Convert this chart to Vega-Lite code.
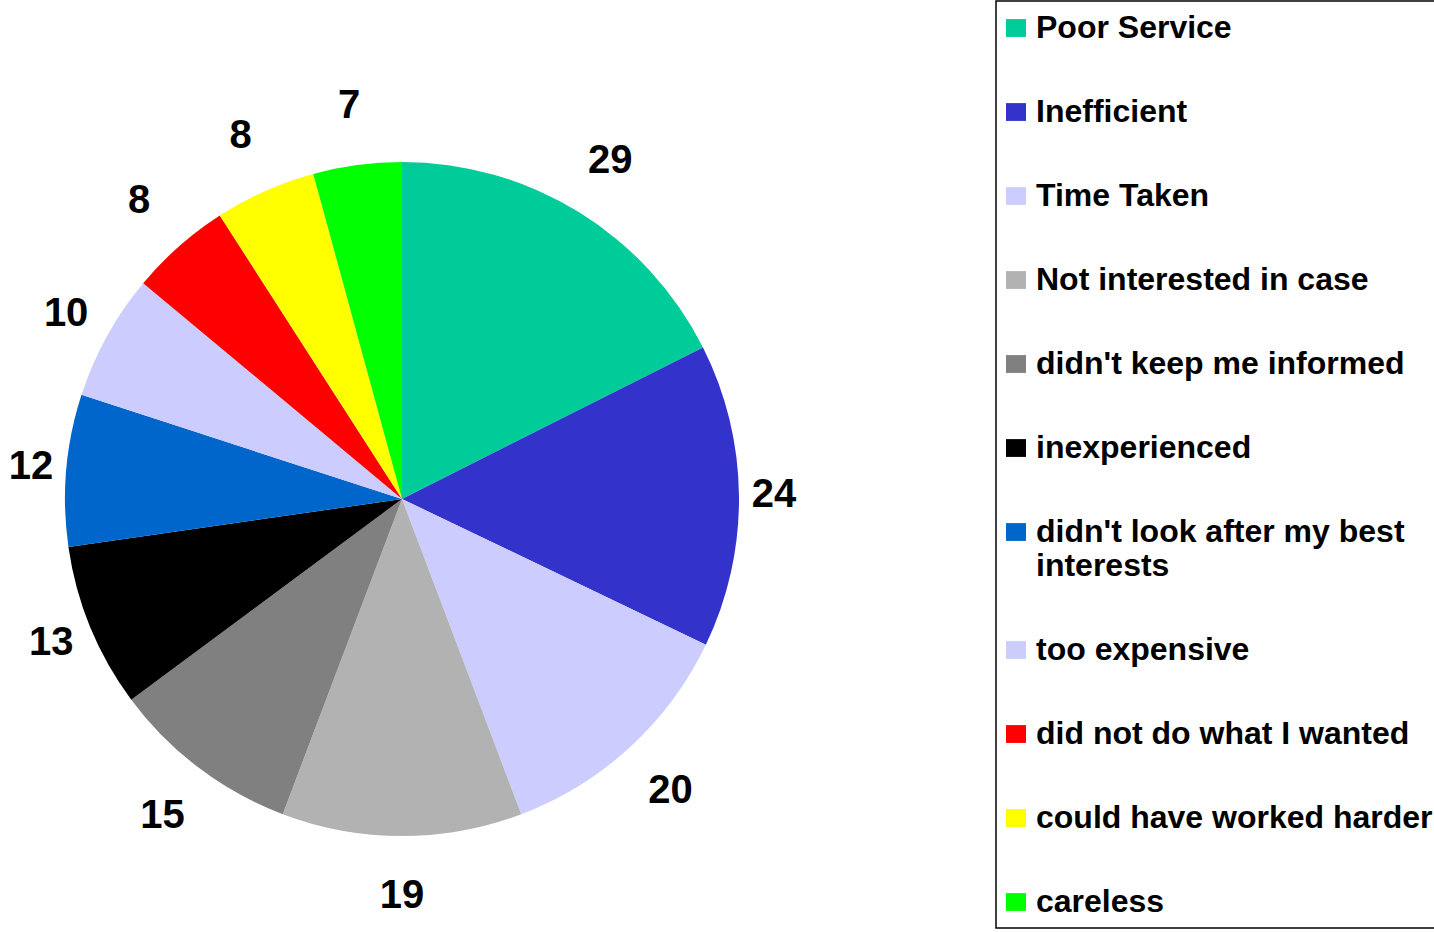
{
  "$schema": "https://vega.github.io/schema/vega-lite/v6.json",
  "width": 804,
  "height": 996,
  "autosize": {"type": "pad"},
  "padding": 0,
  "background": "white",
  "config": {"view": {"stroke": null}, "legend": {"strokeColor": "black", "strokeWidth": 1.5}},
  "data": {
    "values": [
      {"cause": "Poor Service", "count": 29, "order": 1},
      {"cause": "Inefficient", "count": 24, "order": 2},
      {"cause": "Time Taken", "count": 20, "order": 3},
      {"cause": "Not interested in case", "count": 19, "order": 4},
      {"cause": "didn't keep me informed", "count": 15, "order": 5},
      {"cause": "inexperienced", "count": 13, "order": 6},
      {"cause": "didn't look after my best interests", "count": 12, "order": 7},
      {"cause": "too expensive", "count": 10, "order": 8},
      {"cause": "did not do what I wanted", "count": 8, "order": 9},
      {"cause": "could have worked harder", "count": 8, "order": 10},
      {"cause": "careless", "count": 7, "order": 11}
    ]
  },
  "encoding": {
    "theta": {"field": "count", "type": "quantitative", "stack": true},
    "order": {"field": "order", "type": "quantitative"}
  },
  "layer": [
    {
      "mark": {"type": "arc", "outerRadius": 337},
      "encoding": {
        "color": {
          "field": "cause",
          "type": "nominal",
          "scale": {
            "domain": ["Poor Service", "Inefficient", "Time Taken", "Not interested in case", "didn't keep me informed", "inexperienced", "didn't look after my best interests", "too expensive", "did not do what I wanted", "could have worked harder", "careless"],
            "range": ["#00CC99", "#3333CC", "#CCCCFF", "#B2B2B2", "#808080", "#000000", "#0066CC", "#CCCCFF", "#FF0000", "#FFFF00", "#00FF00"]
          },
          "legend": {
            "orient": "right",
            "offset": 192,
            "title": null,
            "padding": 10,
            "labelFont": "Liberation Sans",
            "labelFontSize": 32,
            "labelFontWeight": "bold",
            "labelColor": "black",
            "labelLimit": 600,
            "labelBaseline": "alphabetic",
            "labelOffset": -24,
            "symbolType": "M-1,-0.7H-0.26V-0.04H-1Z",
            "symbolSize": 2916,
            "symbolStrokeWidth": 0,
            "symbolOpacity": 1,
            "rowPadding": 51,
            "labelExpr": "datum.label == \"didn't look after my best interests\" ? [\"didn't look after my best\", 'interests'] : datum.label"
          }
        }
      }
    },
    {
      "mark": {
        "type": "text",
        "radius": {"expr": "372 + 25 * min(1, 2 * pow(cos(PI * (datum.count_start + datum.count_end) / 165), 2))"},
        "fontSize": 40,
        "fontWeight": "bold",
        "font": "Liberation Sans",
        "color": "black"
      },
      "encoding": {
        "text": {"field": "count", "type": "quantitative"},
        "detail": {"field": "cause", "type": "nominal"}
      }
    }
  ]
}
